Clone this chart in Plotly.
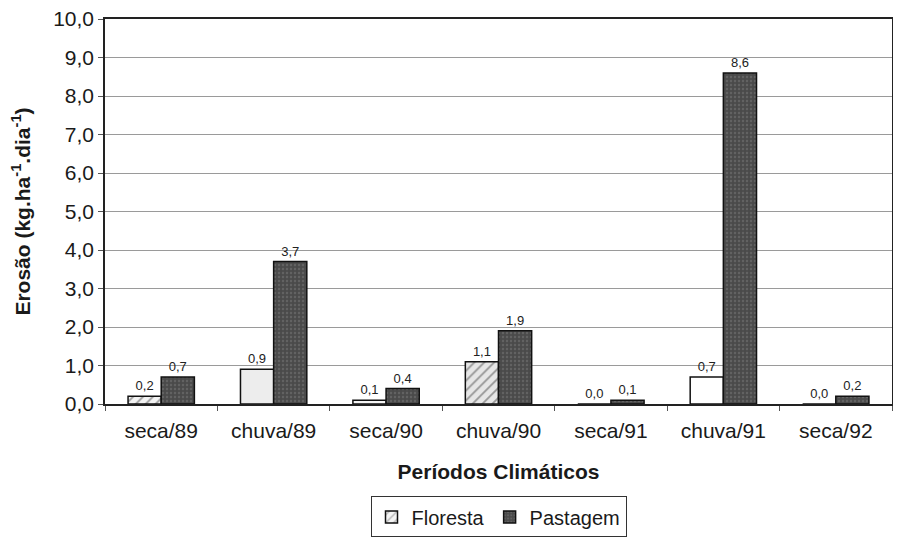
import plotly.graph_objects as go

categorias = ["seca/89", "chuva/89", "seca/90", "chuva/90", "seca/91", "chuva/91", "seca/92"]
floresta = [0.2, 0.9, 0.1, 1.1, 0.0, 0.7, 0.0]
pastagem = [0.7, 3.7, 0.4, 1.9, 0.1, 8.6, 0.2]

flor_colors = ["#f4f4f4", "#ededed", "#f4f4f4", "#e6e6e6", "#ffffff", "#ffffff", "#ffffff"]
flor_shapes = ["/", "", "", "/", "", "", ""]

fig = go.Figure()
fig.add_trace(go.Bar(
    x=categorias, y=floresta, name="Floresta",
    marker=dict(color=flor_colors, line=dict(color="#111111", width=1.5),
                pattern=dict(shape=flor_shapes, fgcolor="#777777", size=7, solidity=0.25)),
    texttemplate="%{y:.1f}", textposition="outside",
    textfont=dict(family="Liberation Sans, Arial", size=13, color="#222222"),
    cliponaxis=False,
))
fig.add_trace(go.Bar(
    x=categorias, y=pastagem, name="Pastagem",
    marker=dict(color="#4a4a4a", line=dict(color="#111111", width=1.5),
                pattern=dict(shape=".", fgcolor="#7a7a7a", size=4, solidity=0.3)),
    texttemplate="%{y:.1f}", textposition="outside",
    textfont=dict(family="Liberation Sans, Arial", size=13, color="#222222"),
    cliponaxis=False,
))

fig.update_layout(
    width=885, height=531,
    margin=dict(l=97, r=1, t=11, b=128),
    paper_bgcolor="white", plot_bgcolor="white",
    separators=",.",
    barmode="group", bargap=0.41, bargroupgap=0.0,
    font=dict(family="Liberation Sans, Arial", color="#1a1a1a"),
    showlegend=True,
    legend=dict(orientation="h", x=0.5, xref="paper", xanchor="center",
                y=-0.24, yanchor="top",
                bordercolor="#333333", borderwidth=1, bgcolor="white",
                font=dict(size=20, color="#1a1a1a"),
                itemwidth=30, traceorder="normal"),
)
fig.update_xaxes(
    type="category", automargin=False,
    showline=True, linecolor="#222222", linewidth=1.5, mirror=True,
    ticks="outside", tickson="boundaries", ticklen=5, tickcolor="#555555",
    ticklabelstandoff=7,
    tickfont=dict(size=21, color="#1a1a1a"),
    title=dict(text="<b>Períodos Climáticos</b>", font=dict(size=21, color="#1a1a1a"), standoff=23),
)
fig.update_yaxes(
    range=[0, 10], dtick=1, tickformat=".1f", automargin=False,
    ticklabeloverflow="allow",
    showgrid=True, gridcolor="#9a9a9a", gridwidth=1,
    showline=True, linecolor="#222222", linewidth=1.5, mirror=True,
    ticks="outside", ticklen=5, tickcolor="#555555",
    tickfont=dict(size=21, color="#1a1a1a"),
    zeroline=False,
    title=dict(text="<b>Erosão (kg.ha<sup>-1</sup>.dia<sup>-1</sup>)</b>", font=dict(size=21, color="#1a1a1a"), standoff=27),
)

fig.write_html("out.html")
